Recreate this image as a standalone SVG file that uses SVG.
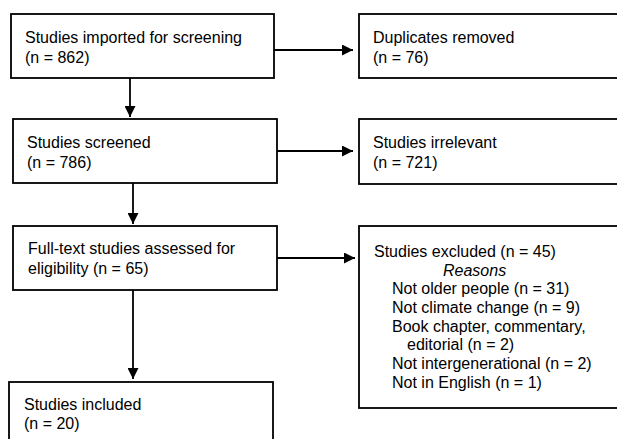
<svg xmlns="http://www.w3.org/2000/svg" width="617" height="439" viewBox="0 0 617 439">
<style>
.box{fill:#fff;stroke:#000;stroke-width:1.8}
.t{font-family:"Liberation Sans",Arial,sans-serif;font-size:16px;fill:#000}
.it{font-style:italic}
.c{stroke:#000;stroke-width:1.8;fill:none;marker-end:url(#ah)}
</style>
<defs>
<marker id="ah" markerUnits="userSpaceOnUse" markerWidth="11" markerHeight="11" refX="10" refY="5" orient="auto" viewBox="0 0 10 10">
<path d="M0,0 L10,5 L0,10 z" fill="#000"/>
</marker>
</defs>
<rect width="617" height="439" fill="#fff"/>
<g id="connectors">
<line class="c" x1="274" y1="50" x2="353" y2="50"/>
<line class="c" x1="277" y1="151" x2="353" y2="151"/>
<line class="c" x1="277" y1="258" x2="355" y2="258"/>
<line class="c" x1="130" y1="78" x2="130" y2="117"/>
<line class="c" x1="133" y1="183" x2="133" y2="224"/>
<line class="c" x1="133" y1="290" x2="133" y2="379"/>
</g>
<g id="imported">
<rect class="box" x="11" y="14" width="263" height="64"/>
<text class="t" x="25" y="43">Studies imported for screening</text>
<text class="t" x="25" y="63">(n = 862)</text>
</g>
<g id="duplicates">
<rect class="box" x="359" y="14" width="300" height="64"/>
<text class="t" x="373" y="43">Duplicates removed</text>
<text class="t" x="373" y="63">(n = 76)</text>
</g>
<g id="screened">
<rect class="box" x="13" y="119" width="264" height="64"/>
<text class="t" x="27" y="148">Studies screened</text>
<text class="t" x="27" y="168">(n = 786)</text>
</g>
<g id="irrelevant">
<rect class="box" x="359" y="119" width="300" height="65"/>
<text class="t" x="373" y="148">Studies irrelevant</text>
<text class="t" x="373" y="168">(n = 721)</text>
</g>
<g id="fulltext">
<rect class="box" x="13" y="226" width="264" height="64"/>
<text class="t" x="28" y="254">Full-text studies assessed for</text>
<text class="t" x="28" y="274">eligibility (n = 65)</text>
</g>
<g id="excluded">
<rect class="box" x="359" y="226" width="300" height="182"/>
<text class="t" x="374" y="257">Studies excluded (n = 45)</text>
<text class="t it" x="443" y="276">Reasons</text>
<text class="t" x="392" y="294">Not older people (n = 31)</text>
<text class="t" x="392" y="313">Not climate change (n = 9)</text>
<text class="t" x="392" y="332">Book chapter, commentary,</text>
<text class="t" x="407" y="350">editorial (n = 2)</text>
<text class="t" x="392" y="369">Not intergenerational (n = 2)</text>
<text class="t" x="392" y="388">Not in English (n = 1)</text>
</g>
<g id="included">
<rect class="box" x="9" y="382" width="264" height="80"/>
<text class="t" x="24" y="410">Studies included</text>
<text class="t" x="24" y="429">(n = 20)</text>
</g>
</svg>
